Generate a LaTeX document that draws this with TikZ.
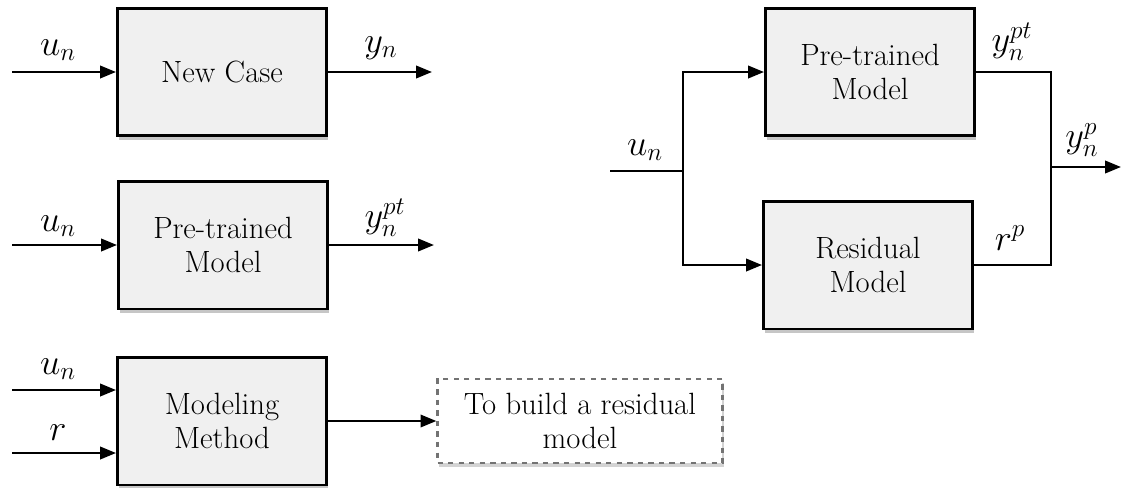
\documentclass[tikz,border=0pt]{standalone}
\usetikzlibrary{arrows.meta,shadows}

\tikzset{
  blockbox/.style={draw,line width=1.7pt,fill=black!6,minimum width=4.18cm,minimum height=2.56cm,
    align=center,font=\fontsize{17.5}{19.5}\selectfont,
    drop shadow={opacity=0.45,shadow xshift=0.8pt,shadow yshift=-2pt}},
  notebox/.style={draw=black!55,dashed,line width=1.3pt,fill=white,minimum width=5.7cm,minimum height=1.68cm,
    align=center,font=\fontsize{17.5}{19.5}\selectfont,
    drop shadow={opacity=0.35,shadow xshift=0.8pt,shadow yshift=-2pt}},
  sig/.style={font=\fontsize{20}{22}\selectfont},
  flow/.style={line width=1.4pt,-{Triangle[length=9pt,width=7pt]}},
  wire/.style={line width=1.4pt}
}

\begin{document}
\begin{tikzpicture}[x=0.02cm,y=-0.02cm]
  \useasboundingbox (0,0) rectangle (1121,487);

  % left column
  \node[blockbox] (newcase) at (222,72) {New Case};
  \node[blockbox] (pretrain) at (223,245) {Pre-trained\\Model};
  \node[blockbox] (method) at (222,421) {Modeling\\Method};
  \node[notebox] (goal) at (580,421) {To build a residual\\model};

  \coordinate (in1) at (12,72);
  \coordinate (out1) at (432,72);
  \coordinate (in2) at (12,245);
  \coordinate (out2) at (434,245);
  \coordinate (in3a) at (12,390);
  \coordinate (in3b) at (12,453);

  \draw[flow] (in1) -- (newcase);
  \draw[flow] (newcase) -- (out1);
  \draw[flow] (in2) -- (pretrain);
  \draw[flow] (pretrain) -- (out2);
  \draw[flow] (in3a) -- (in3a -| method.west);
  \draw[flow] (in3b) -- (in3b -| method.west);
  \draw[flow] (method) -- (goal);

  \node[sig] (u1) at (58,50) {$u_n$};
  \node[sig] (y1) at (381,48) {$y_n$};
  \node[sig] (u2) at (58,226) {$u_n$};
  \node[sig] (y2) at (385,218) {$y_n^{pt}$};
  \node[sig] (u3) at (58,369) {$u_n$};
  \node[sig] (r3) at (58,433) {$r$};

  % right diagram
  \node[blockbox] (ptmodel) at (870,72) {Pre-trained\\Model};
  \node[blockbox] (resmodel) at (868,265) {Residual\\Model};

  \coordinate (uin) at (610,171);
  \coordinate (split) at (683,171);
  \coordinate (join) at (1051,167);
  \coordinate (yout) at (1121,167);

  \draw[wire] (uin) -- (split);
  \draw[flow] (split) |- (ptmodel.west);
  \draw[flow] (split) |- (resmodel.west);
  \draw[wire] (ptmodel.east) -| (join);
  \draw[wire] (resmodel.east) -| (join);
  \draw[flow] (join) -- (yout);

  \node[sig] (u4) at (645,150) {$u_n$};
  \node[sig] (y4) at (1012,42) {$y_n^{pt}$};
  \node[sig] (yp) at (1082,140) {$y_n^{p}$};
  \node[sig] (rp) at (1010,238) {$r^{p}$};
\end{tikzpicture}
\end{document}
